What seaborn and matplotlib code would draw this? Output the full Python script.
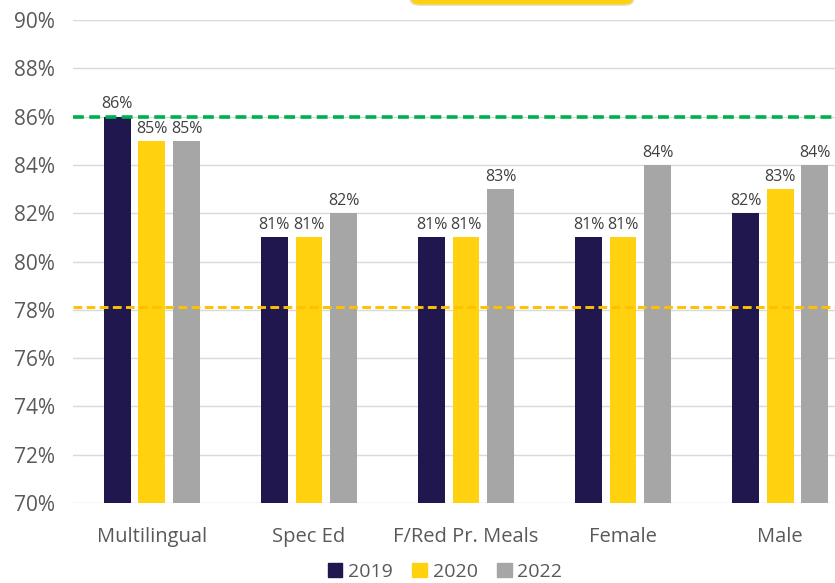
import matplotlib.pyplot as plt
import seaborn as sns
import pandas as pd
from matplotlib.patches import FancyBboxPatch

categories = ["Multilingual", "Spec Ed", "F/Red Pr. Meals", "Female", "Male"]
years = ["2019", "2020", "2022"]
values_2019 = [86, 81, 81, 81, 82]
values_2020 = [85, 81, 81, 81, 83]
values_2022 = [85, 82, 83, 84, 84]
target_line = 86
baseline_line = 78.1

colors = ["#21174F", "#FFD10F", "#A6A6A6"]

rows = []
for year, vals in zip(years, [values_2019, values_2020, values_2022]):
  for cat, v in zip(categories, vals):
    rows.append({"category": cat, "year": year, "value": v})
df = pd.DataFrame(rows)

sns.set_style("white")
plt.rcParams["font.family"] = ["Open Sans", "DejaVu Sans"]

fig = plt.figure(figsize=(8.35, 5.83), dpi=100)
ax = fig.add_axes([0.0874, 0.1372, 0.9126, 0.8285])

sns.barplot(data=df, x="category", y="value", hue="year", palette=colors,
            width=0.66, gap=0.22, ax=ax, legend=False, saturation=1,
            linewidth=0)

for container in ax.containers:
  ax.bar_label(container, labels=[f"{int(v)}%" for v in container.datavalues],
               padding=3, fontsize=11.5, color="#404040")

ax.axhline(target_line, color="#00B050", linestyle=(0, (3, 1.5)), linewidth=2.6, zorder=5)
ax.axhline(baseline_line, color="#FFC000", linestyle=(0, (3, 1.5)), linewidth=2.1, zorder=5)

ax.set_ylim(70, 90)
ax.set_xlim(-0.503, 4.35)
ax.set_yticks(range(70, 91, 2))
ax.set_yticklabels([f"{t}%" for t in range(70, 91, 2)])
ax.grid(axis="y", color="#D9D9D9", linewidth=1)
ax.set_axisbelow(True)
for s in ax.spines.values():
  s.set_visible(False)
ax.tick_params(axis="y", length=0, pad=13, labelsize=15, labelcolor="#595959")
ax.tick_params(axis="x", length=0, pad=17, labelsize=14.5, labelcolor="#595959")
ax.set_xlabel("")
ax.set_ylabel("")

handles = [plt.Rectangle((0, 0), 1, 1, color=c) for c in colors]
fig.legend(handles, years, loc="center", bbox_to_anchor=(445 / 835, 1 - 572 / 583),
           ncol=3, frameon=False, fontsize=14, handlelength=0.75, handleheight=0.75,
           handletextpad=0.3, columnspacing=1.0, labelcolor="#595959")

# clipped title badge at the top edge
badge = FancyBboxPatch((410 / 835, 0.991), 224 / 835, 0.05,
                       boxstyle="round,pad=0,rounding_size=0.012",
                       transform=fig.transFigure, facecolor="#FFD10F",
                       edgecolor="#E0E0E0", linewidth=1, clip_on=False)
fig.patches.append(badge)

fig.savefig("out.png", dpi=100)
